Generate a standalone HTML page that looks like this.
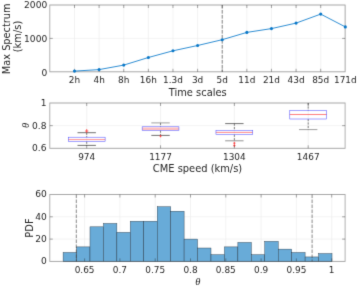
<!DOCTYPE html>
<html><head><meta charset="utf-8"><title>figure</title>
<style>html,body{margin:0;padding:0;background:#fff}svg{display:block}</style></head>
<body>
<svg width="357" height="286" viewBox="0 0 357 286" font-family="'DejaVu Sans', 'Liberation Sans', sans-serif" fill="#262626">
<defs><filter id="b" x="0" y="0" width="357" height="286" filterUnits="userSpaceOnUse" color-interpolation-filters="sRGB"><feConvolveMatrix order="3" kernelMatrix="0.0113 0.0838 0.0113 0.0838 0.6193 0.0838 0.0113 0.0838 0.0113" divisor="1" edgeMode="duplicate" preserveAlpha="true"/></filter></defs>
<g filter="url(#b)">
<rect width="357" height="286" fill="#fff"/>
<line x1="74.50" y1="5.0" x2="74.50" y2="71.8" stroke="#ebebeb" stroke-width="0.6"/>
<line x1="99.12" y1="5.0" x2="99.12" y2="71.8" stroke="#ebebeb" stroke-width="0.6"/>
<line x1="123.74" y1="5.0" x2="123.74" y2="71.8" stroke="#ebebeb" stroke-width="0.6"/>
<line x1="148.36" y1="5.0" x2="148.36" y2="71.8" stroke="#ebebeb" stroke-width="0.6"/>
<line x1="172.98" y1="5.0" x2="172.98" y2="71.8" stroke="#ebebeb" stroke-width="0.6"/>
<line x1="197.60" y1="5.0" x2="197.60" y2="71.8" stroke="#ebebeb" stroke-width="0.6"/>
<line x1="222.22" y1="5.0" x2="222.22" y2="71.8" stroke="#ebebeb" stroke-width="0.6"/>
<line x1="246.84" y1="5.0" x2="246.84" y2="71.8" stroke="#ebebeb" stroke-width="0.6"/>
<line x1="271.46" y1="5.0" x2="271.46" y2="71.8" stroke="#ebebeb" stroke-width="0.6"/>
<line x1="296.08" y1="5.0" x2="296.08" y2="71.8" stroke="#ebebeb" stroke-width="0.6"/>
<line x1="320.70" y1="5.0" x2="320.70" y2="71.8" stroke="#ebebeb" stroke-width="0.6"/>
<line x1="345.32" y1="5.0" x2="345.32" y2="71.8" stroke="#ebebeb" stroke-width="0.6"/>
<line x1="49.8" y1="71.80" x2="345.1" y2="71.80" stroke="#ebebeb" stroke-width="0.6"/>
<line x1="49.8" y1="38.40" x2="345.1" y2="38.40" stroke="#ebebeb" stroke-width="0.6"/>
<line x1="49.8" y1="5.00" x2="345.1" y2="5.00" stroke="#ebebeb" stroke-width="0.6"/>
<rect x="49.8" y="5.0" width="295.30" height="66.80" fill="none" stroke="#262626" stroke-opacity="0.4" stroke-width="0.9"/>
<line x1="74.50" y1="71.8" x2="74.50" y2="68.8" stroke="#262626" stroke-width="0.4"/>
<line x1="74.50" y1="5.0" x2="74.50" y2="8.0" stroke="#262626" stroke-width="0.4"/>
<line x1="99.12" y1="71.8" x2="99.12" y2="68.8" stroke="#262626" stroke-width="0.4"/>
<line x1="99.12" y1="5.0" x2="99.12" y2="8.0" stroke="#262626" stroke-width="0.4"/>
<line x1="123.74" y1="71.8" x2="123.74" y2="68.8" stroke="#262626" stroke-width="0.4"/>
<line x1="123.74" y1="5.0" x2="123.74" y2="8.0" stroke="#262626" stroke-width="0.4"/>
<line x1="148.36" y1="71.8" x2="148.36" y2="68.8" stroke="#262626" stroke-width="0.4"/>
<line x1="148.36" y1="5.0" x2="148.36" y2="8.0" stroke="#262626" stroke-width="0.4"/>
<line x1="172.98" y1="71.8" x2="172.98" y2="68.8" stroke="#262626" stroke-width="0.4"/>
<line x1="172.98" y1="5.0" x2="172.98" y2="8.0" stroke="#262626" stroke-width="0.4"/>
<line x1="197.60" y1="71.8" x2="197.60" y2="68.8" stroke="#262626" stroke-width="0.4"/>
<line x1="197.60" y1="5.0" x2="197.60" y2="8.0" stroke="#262626" stroke-width="0.4"/>
<line x1="222.22" y1="71.8" x2="222.22" y2="68.8" stroke="#262626" stroke-width="0.4"/>
<line x1="222.22" y1="5.0" x2="222.22" y2="8.0" stroke="#262626" stroke-width="0.4"/>
<line x1="246.84" y1="71.8" x2="246.84" y2="68.8" stroke="#262626" stroke-width="0.4"/>
<line x1="246.84" y1="5.0" x2="246.84" y2="8.0" stroke="#262626" stroke-width="0.4"/>
<line x1="271.46" y1="71.8" x2="271.46" y2="68.8" stroke="#262626" stroke-width="0.4"/>
<line x1="271.46" y1="5.0" x2="271.46" y2="8.0" stroke="#262626" stroke-width="0.4"/>
<line x1="296.08" y1="71.8" x2="296.08" y2="68.8" stroke="#262626" stroke-width="0.4"/>
<line x1="296.08" y1="5.0" x2="296.08" y2="8.0" stroke="#262626" stroke-width="0.4"/>
<line x1="320.70" y1="71.8" x2="320.70" y2="68.8" stroke="#262626" stroke-width="0.4"/>
<line x1="320.70" y1="5.0" x2="320.70" y2="8.0" stroke="#262626" stroke-width="0.4"/>
<line x1="49.8" y1="38.40" x2="52.8" y2="38.40" stroke="#262626" stroke-width="0.4"/>
<line x1="345.1" y1="38.40" x2="342.1" y2="38.40" stroke="#262626" stroke-width="0.4"/>
<text transform="translate(74.50,83.40) scale(1,0.975)" font-size="8.95" text-anchor="middle">2h</text>
<text transform="translate(99.12,83.40) scale(1,0.975)" font-size="8.95" text-anchor="middle">4h</text>
<text transform="translate(123.74,83.40) scale(1,0.975)" font-size="8.95" text-anchor="middle">8h</text>
<text transform="translate(148.36,83.40) scale(1,0.975)" font-size="8.95" text-anchor="middle">16h</text>
<text transform="translate(172.98,83.40) scale(1,0.975)" font-size="8.95" text-anchor="middle">1.3d</text>
<text transform="translate(197.60,83.40) scale(1,0.975)" font-size="8.95" text-anchor="middle">3d</text>
<text transform="translate(222.22,83.40) scale(1,0.975)" font-size="8.95" text-anchor="middle">5d</text>
<text transform="translate(246.84,83.40) scale(1,0.975)" font-size="8.95" text-anchor="middle">11d</text>
<text transform="translate(271.46,83.40) scale(1,0.975)" font-size="8.95" text-anchor="middle">21d</text>
<text transform="translate(296.08,83.40) scale(1,0.975)" font-size="8.95" text-anchor="middle">43d</text>
<text transform="translate(320.70,83.40) scale(1,0.975)" font-size="8.95" text-anchor="middle">85d</text>
<text transform="translate(345.32,83.40) scale(1,0.975)" font-size="8.95" text-anchor="middle">171d</text>
<text transform="translate(47.20,75.50) scale(1,0.975)" font-size="9.1" text-anchor="end">0</text>
<text transform="translate(47.20,41.60) scale(1,0.975)" font-size="9.1" text-anchor="end">1000</text>
<text transform="translate(47.20,7.95) scale(1,0.975)" font-size="9.1" text-anchor="end">2000</text>
<line x1="222.22" y1="5.0" x2="222.22" y2="71.8" stroke="#404040" stroke-width="0.62" stroke-dasharray="3.6 1.4"/>
<polyline points="74.50,71.10 99.12,69.60 123.74,65.10 148.36,57.50 172.98,50.80 197.60,45.50 222.22,39.70 246.84,32.40 271.46,28.60 296.08,23.10 320.70,14.10 345.32,26.90" fill="none" stroke="#0a7acb" stroke-width="0.85" stroke-linejoin="round"/>
<circle cx="74.50" cy="71.10" r="1.55" fill="#0a78c8"/>
<circle cx="99.12" cy="69.60" r="1.55" fill="#0a78c8"/>
<circle cx="123.74" cy="65.10" r="1.55" fill="#0a78c8"/>
<circle cx="148.36" cy="57.50" r="1.55" fill="#0a78c8"/>
<circle cx="172.98" cy="50.80" r="1.55" fill="#0a78c8"/>
<circle cx="197.60" cy="45.50" r="1.55" fill="#0a78c8"/>
<circle cx="222.22" cy="39.70" r="1.55" fill="#0a78c8"/>
<circle cx="246.84" cy="32.40" r="1.55" fill="#0a78c8"/>
<circle cx="271.46" cy="28.60" r="1.55" fill="#0a78c8"/>
<circle cx="296.08" cy="23.10" r="1.55" fill="#0a78c8"/>
<circle cx="320.70" cy="14.10" r="1.55" fill="#0a78c8"/>
<circle cx="345.32" cy="26.90" r="1.55" fill="#0a78c8"/>
<text transform="translate(197.7,95.6) scale(1,0.975)" font-size="9.9" text-anchor="middle">Time scales</text>
<text transform="translate(9.5,38.8) rotate(-90)" font-size="9.8" text-anchor="middle">Max Spectrum</text>
<text transform="translate(20.6,36.5) rotate(-90)" font-size="9.9" text-anchor="middle">(km/s)</text>
<line x1="86.71" y1="103.0" x2="86.71" y2="148.3" stroke="#ebebeb" stroke-width="0.6"/>
<line x1="160.54" y1="103.0" x2="160.54" y2="148.3" stroke="#ebebeb" stroke-width="0.6"/>
<line x1="234.36" y1="103.0" x2="234.36" y2="148.3" stroke="#ebebeb" stroke-width="0.6"/>
<line x1="308.19" y1="103.0" x2="308.19" y2="148.3" stroke="#ebebeb" stroke-width="0.6"/>
<line x1="49.8" y1="148.30" x2="345.1" y2="148.30" stroke="#ebebeb" stroke-width="0.6"/>
<line x1="49.8" y1="125.65" x2="345.1" y2="125.65" stroke="#ebebeb" stroke-width="0.6"/>
<line x1="49.8" y1="103.00" x2="345.1" y2="103.00" stroke="#ebebeb" stroke-width="0.6"/>
<line x1="86.71" y1="132.7" x2="86.71" y2="137.2" stroke="#333" stroke-width="0.6" stroke-dasharray="2.2 1.2"/>
<line x1="86.71" y1="141.6" x2="86.71" y2="145.4" stroke="#333" stroke-width="0.6" stroke-dasharray="2.2 1.2"/>
<line x1="77.51" y1="132.7" x2="95.91" y2="132.7" stroke="#333" stroke-width="0.7"/>
<line x1="77.51" y1="145.4" x2="95.91" y2="145.4" stroke="#333" stroke-width="0.7"/>
<line x1="68.31" y1="139.6" x2="105.11" y2="139.6" stroke="#ff2a2a" stroke-width="0.5"/>
<rect x="68.31" y="137.2" width="36.8" height="4.40" fill="none" stroke="#4545ff" stroke-width="0.5"/>
<path d="M85.10 131.0H88.33M86.71 129.1V132.9" stroke="#ff2a2a" stroke-width="0.75" fill="none"/>
<line x1="160.54" y1="122.9" x2="160.54" y2="126.8" stroke="#333" stroke-width="0.6" stroke-dasharray="2.2 1.2"/>
<line x1="160.54" y1="130.6" x2="160.54" y2="135.4" stroke="#333" stroke-width="0.6" stroke-dasharray="2.2 1.2"/>
<line x1="151.34" y1="122.9" x2="169.74" y2="122.9" stroke="#777" stroke-width="0.7"/>
<line x1="151.34" y1="135.4" x2="169.74" y2="135.4" stroke="#333" stroke-width="0.7"/>
<line x1="142.14" y1="128.7" x2="178.94" y2="128.7" stroke="#ffc0c0" stroke-width="2.4"/>
<rect x="142.14" y="126.8" width="36.8" height="3.80" fill="none" stroke="#4545ff" stroke-width="0.5"/>
<path d="M159.52 136.1H161.56M160.54 134.9V137.29999999999998" stroke="#ff2a2a" stroke-width="0.75" fill="none"/>
<line x1="234.36" y1="123.6" x2="234.36" y2="130.3" stroke="#333" stroke-width="0.6" stroke-dasharray="2.2 1.2"/>
<line x1="234.36" y1="134.7" x2="234.36" y2="140.8" stroke="#333" stroke-width="0.6" stroke-dasharray="2.2 1.2"/>
<line x1="225.16" y1="123.6" x2="243.56" y2="123.6" stroke="#333" stroke-width="0.7"/>
<line x1="225.16" y1="140.8" x2="243.56" y2="140.8" stroke="#666" stroke-width="0.7"/>
<line x1="215.96" y1="132.4" x2="252.76" y2="132.4" stroke="#ff2a2a" stroke-width="0.55"/>
<rect x="215.96" y="130.3" width="36.8" height="4.40" fill="none" stroke="#4545ff" stroke-width="0.5"/>
<path d="M233.26 143.2H235.47M234.36 141.89999999999998V144.5" stroke="#ff2a2a" stroke-width="0.75" fill="none"/>
<path d="M233.26 145.6H235.47M234.36 144.29999999999998V146.9" stroke="#ff2a2a" stroke-width="0.75" fill="none"/>
<line x1="308.19" y1="103.0" x2="308.19" y2="110.5" stroke="#333" stroke-width="0.6" stroke-dasharray="2.2 1.2"/>
<line x1="308.19" y1="119.0" x2="308.19" y2="129.6" stroke="#333" stroke-width="0.6" stroke-dasharray="2.2 1.2"/>
<line x1="298.99" y1="129.6" x2="317.39" y2="129.6" stroke="#777" stroke-width="0.7"/>
<line x1="289.79" y1="114.5" x2="326.59" y2="114.5" stroke="#ff2a2a" stroke-width="0.6"/>
<rect x="289.79" y="110.5" width="36.8" height="8.50" fill="none" stroke="#4545ff" stroke-width="0.5"/>
<rect x="49.8" y="103.0" width="295.30" height="45.30" fill="none" stroke="#262626" stroke-opacity="0.4" stroke-width="0.9"/>
<line x1="86.71" y1="148.3" x2="86.71" y2="145.3" stroke="#262626" stroke-width="0.4"/>
<line x1="86.71" y1="103.0" x2="86.71" y2="106.0" stroke="#262626" stroke-width="0.4"/>
<line x1="160.54" y1="148.3" x2="160.54" y2="145.3" stroke="#262626" stroke-width="0.4"/>
<line x1="160.54" y1="103.0" x2="160.54" y2="106.0" stroke="#262626" stroke-width="0.4"/>
<line x1="234.36" y1="148.3" x2="234.36" y2="145.3" stroke="#262626" stroke-width="0.4"/>
<line x1="234.36" y1="103.0" x2="234.36" y2="106.0" stroke="#262626" stroke-width="0.4"/>
<line x1="308.19" y1="148.3" x2="308.19" y2="145.3" stroke="#262626" stroke-width="0.4"/>
<line x1="308.19" y1="103.0" x2="308.19" y2="106.0" stroke="#262626" stroke-width="0.4"/>
<line x1="49.8" y1="125.65" x2="52.8" y2="125.65" stroke="#262626" stroke-width="0.4"/>
<line x1="345.1" y1="125.65" x2="342.1" y2="125.65" stroke="#262626" stroke-width="0.4"/>
<text transform="translate(86.71,159.60) scale(1,0.975)" font-size="8.95" text-anchor="middle">974</text>
<text transform="translate(160.54,159.60) scale(1,0.975)" font-size="8.95" text-anchor="middle">1177</text>
<text transform="translate(234.36,159.60) scale(1,0.975)" font-size="8.95" text-anchor="middle">1304</text>
<text transform="translate(308.19,159.60) scale(1,0.975)" font-size="8.95" text-anchor="middle">1467</text>
<text transform="translate(46.50,151.40) scale(1,0.975)" font-size="9.1" text-anchor="end">0.6</text>
<text transform="translate(46.50,128.95) scale(1,0.975)" font-size="9.1" text-anchor="end">0.8</text>
<text transform="translate(46.50,106.35) scale(1,0.975)" font-size="9.1" text-anchor="end">1</text>
<text transform="translate(197.5,172.2) scale(1,0.975)" font-size="9.9" text-anchor="middle">CME speed (km/s)</text>
<text transform="translate(29.1,125.5) rotate(-90)" font-size="10.5" font-style="italic" text-anchor="middle" font-family="'Liberation Serif', 'DejaVu Serif', serif">θ</text>
<line x1="84.60" y1="194.5" x2="84.60" y2="261.4" stroke="#ebebeb" stroke-width="0.6"/>
<line x1="119.90" y1="194.5" x2="119.90" y2="261.4" stroke="#ebebeb" stroke-width="0.6"/>
<line x1="155.20" y1="194.5" x2="155.20" y2="261.4" stroke="#ebebeb" stroke-width="0.6"/>
<line x1="190.50" y1="194.5" x2="190.50" y2="261.4" stroke="#ebebeb" stroke-width="0.6"/>
<line x1="225.80" y1="194.5" x2="225.80" y2="261.4" stroke="#ebebeb" stroke-width="0.6"/>
<line x1="261.10" y1="194.5" x2="261.10" y2="261.4" stroke="#ebebeb" stroke-width="0.6"/>
<line x1="296.40" y1="194.5" x2="296.40" y2="261.4" stroke="#ebebeb" stroke-width="0.6"/>
<line x1="331.70" y1="194.5" x2="331.70" y2="261.4" stroke="#ebebeb" stroke-width="0.6"/>
<line x1="49.8" y1="261.40" x2="345.1" y2="261.40" stroke="#ebebeb" stroke-width="0.6"/>
<line x1="49.8" y1="239.10" x2="345.1" y2="239.10" stroke="#ebebeb" stroke-width="0.6"/>
<line x1="49.8" y1="216.80" x2="345.1" y2="216.80" stroke="#ebebeb" stroke-width="0.6"/>
<line x1="49.8" y1="194.50" x2="345.1" y2="194.50" stroke="#ebebeb" stroke-width="0.6"/>
<rect x="63.10" y="252.48" width="13.44" height="8.92" fill="#68abd8" stroke="#22313e" stroke-width="0.4"/>
<rect x="76.55" y="246.90" width="13.44" height="14.49" fill="#68abd8" stroke="#22313e" stroke-width="0.4"/>
<rect x="89.99" y="226.83" width="13.44" height="34.56" fill="#68abd8" stroke="#22313e" stroke-width="0.4"/>
<rect x="103.44" y="223.49" width="13.44" height="37.91" fill="#68abd8" stroke="#22313e" stroke-width="0.4"/>
<rect x="116.88" y="232.41" width="13.44" height="28.99" fill="#68abd8" stroke="#22313e" stroke-width="0.4"/>
<rect x="130.32" y="221.26" width="13.44" height="40.14" fill="#68abd8" stroke="#22313e" stroke-width="0.4"/>
<rect x="143.77" y="221.26" width="13.44" height="40.14" fill="#68abd8" stroke="#22313e" stroke-width="0.4"/>
<rect x="157.22" y="206.76" width="13.44" height="54.63" fill="#68abd8" stroke="#22313e" stroke-width="0.4"/>
<rect x="170.66" y="211.22" width="13.44" height="50.17" fill="#68abd8" stroke="#22313e" stroke-width="0.4"/>
<rect x="184.10" y="239.10" width="13.44" height="22.30" fill="#68abd8" stroke="#22313e" stroke-width="0.4"/>
<rect x="197.55" y="248.02" width="13.44" height="13.38" fill="#68abd8" stroke="#22313e" stroke-width="0.4"/>
<rect x="210.99" y="254.71" width="13.44" height="6.69" fill="#68abd8" stroke="#22313e" stroke-width="0.4"/>
<rect x="224.44" y="246.90" width="13.44" height="14.49" fill="#68abd8" stroke="#22313e" stroke-width="0.4"/>
<rect x="237.88" y="242.44" width="13.44" height="18.95" fill="#68abd8" stroke="#22313e" stroke-width="0.4"/>
<rect x="251.33" y="254.71" width="13.44" height="6.69" fill="#68abd8" stroke="#22313e" stroke-width="0.4"/>
<rect x="264.77" y="241.33" width="13.44" height="20.07" fill="#68abd8" stroke="#22313e" stroke-width="0.4"/>
<rect x="278.22" y="249.13" width="13.44" height="12.26" fill="#68abd8" stroke="#22313e" stroke-width="0.4"/>
<rect x="291.66" y="252.48" width="13.44" height="8.92" fill="#68abd8" stroke="#22313e" stroke-width="0.4"/>
<rect x="305.11" y="256.94" width="13.44" height="4.46" fill="#68abd8" stroke="#22313e" stroke-width="0.4"/>
<rect x="318.56" y="253.59" width="13.44" height="7.80" fill="#68abd8" stroke="#22313e" stroke-width="0.4"/>
<line x1="76.3" y1="194.5" x2="76.3" y2="261.4" stroke="#404040" stroke-width="0.62" stroke-dasharray="3.6 1.4"/>
<line x1="312.1" y1="194.5" x2="312.1" y2="261.4" stroke="#404040" stroke-width="0.62" stroke-dasharray="3.6 1.4"/>
<rect x="49.8" y="194.5" width="295.30" height="66.90" fill="none" stroke="#262626" stroke-opacity="0.4" stroke-width="0.9"/>
<line x1="84.60" y1="261.4" x2="84.60" y2="258.4" stroke="#262626" stroke-width="0.4"/>
<line x1="84.60" y1="194.5" x2="84.60" y2="197.5" stroke="#262626" stroke-width="0.4"/>
<line x1="119.90" y1="261.4" x2="119.90" y2="258.4" stroke="#262626" stroke-width="0.4"/>
<line x1="119.90" y1="194.5" x2="119.90" y2="197.5" stroke="#262626" stroke-width="0.4"/>
<line x1="155.20" y1="261.4" x2="155.20" y2="258.4" stroke="#262626" stroke-width="0.4"/>
<line x1="155.20" y1="194.5" x2="155.20" y2="197.5" stroke="#262626" stroke-width="0.4"/>
<line x1="190.50" y1="261.4" x2="190.50" y2="258.4" stroke="#262626" stroke-width="0.4"/>
<line x1="190.50" y1="194.5" x2="190.50" y2="197.5" stroke="#262626" stroke-width="0.4"/>
<line x1="225.80" y1="261.4" x2="225.80" y2="258.4" stroke="#262626" stroke-width="0.4"/>
<line x1="225.80" y1="194.5" x2="225.80" y2="197.5" stroke="#262626" stroke-width="0.4"/>
<line x1="261.10" y1="261.4" x2="261.10" y2="258.4" stroke="#262626" stroke-width="0.4"/>
<line x1="261.10" y1="194.5" x2="261.10" y2="197.5" stroke="#262626" stroke-width="0.4"/>
<line x1="296.40" y1="261.4" x2="296.40" y2="258.4" stroke="#262626" stroke-width="0.4"/>
<line x1="296.40" y1="194.5" x2="296.40" y2="197.5" stroke="#262626" stroke-width="0.4"/>
<line x1="331.70" y1="261.4" x2="331.70" y2="258.4" stroke="#262626" stroke-width="0.4"/>
<line x1="331.70" y1="194.5" x2="331.70" y2="197.5" stroke="#262626" stroke-width="0.4"/>
<line x1="49.8" y1="239.10" x2="52.8" y2="239.10" stroke="#262626" stroke-width="0.4"/>
<line x1="345.1" y1="239.10" x2="342.1" y2="239.10" stroke="#262626" stroke-width="0.4"/>
<line x1="49.8" y1="216.80" x2="52.8" y2="216.80" stroke="#262626" stroke-width="0.4"/>
<line x1="345.1" y1="216.80" x2="342.1" y2="216.80" stroke="#262626" stroke-width="0.4"/>
<text transform="translate(84.60,273.00) scale(1,0.975)" font-size="8.95" text-anchor="middle">0.65</text>
<text transform="translate(119.90,273.00) scale(1,0.975)" font-size="8.95" text-anchor="middle">0.7</text>
<text transform="translate(155.20,273.00) scale(1,0.975)" font-size="8.95" text-anchor="middle">0.75</text>
<text transform="translate(190.50,273.00) scale(1,0.975)" font-size="8.95" text-anchor="middle">0.8</text>
<text transform="translate(225.80,273.00) scale(1,0.975)" font-size="8.95" text-anchor="middle">0.85</text>
<text transform="translate(261.10,273.00) scale(1,0.975)" font-size="8.95" text-anchor="middle">0.9</text>
<text transform="translate(296.40,273.00) scale(1,0.975)" font-size="8.95" text-anchor="middle">0.95</text>
<text transform="translate(331.70,273.00) scale(1,0.975)" font-size="8.95" text-anchor="middle">1</text>
<text transform="translate(46.90,264.25) scale(1,0.975)" font-size="9.1" text-anchor="end">0</text>
<text transform="translate(46.90,242.00) scale(1,0.975)" font-size="9.1" text-anchor="end">20</text>
<text transform="translate(46.90,219.70) scale(1,0.975)" font-size="9.1" text-anchor="end">40</text>
<text transform="translate(46.90,197.35) scale(1,0.975)" font-size="9.1" text-anchor="end">60</text>
<text transform="translate(32.6,228) rotate(-90)" font-size="9.9" text-anchor="middle">PDF</text>
<text x="197.8" y="284.7" font-size="10.5" font-style="italic" text-anchor="middle" font-family="'Liberation Serif', 'DejaVu Serif', serif">θ</text>
</g></svg>
</body></html>
